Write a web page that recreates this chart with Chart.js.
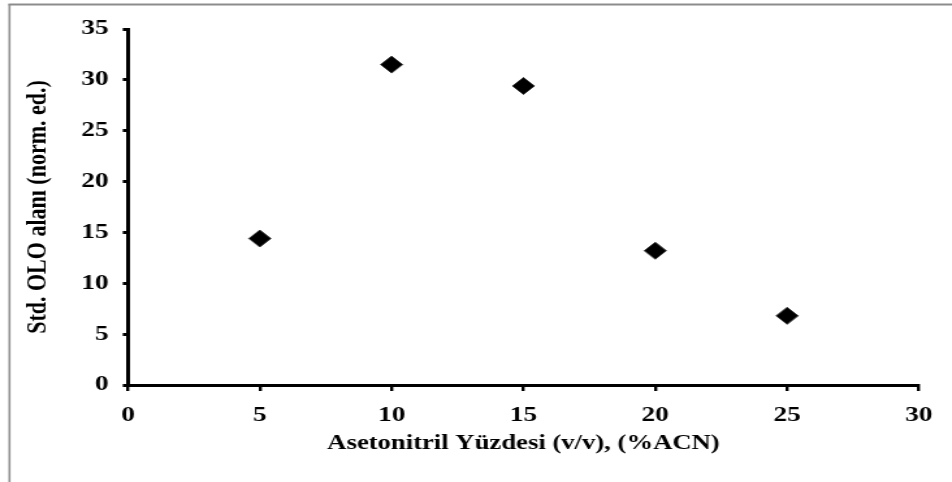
<!DOCTYPE html>
<html>
<head>
<meta charset="utf-8">
<script src="https://cdn.jsdelivr.net/npm/chart.js@4"></script>
<style>
  html, body { margin: 0; padding: 0; background: #fff; overflow: hidden; }
  /* the original picture is stretched sideways, so the chart is too */
  #wrap { width: 732px; height: 482px; transform: scaleX(1.3005); transform-origin: 0 0; }
</style>
</head>
<body>
<div id="wrap"><canvas id="acn-chart" width="732" height="482"></canvas></div>
<script>
// Dati
const acnPercent = [5, 10, 15, 20, 25];
const oloArea = [14.4, 31.5, 29.4, 13.2, 6.8];
const xTickValues = [0, 5, 10, 15, 20, 25, 30];
const yTickValues = [0, 5, 10, 15, 20, 25, 30, 35];

const serif = '"Liberation Serif", "Times New Roman", serif';

// cornice grigia (solo sopra e a sinistra)
const frame = {
  id: 'frame',
  beforeDraw(chart) {
    const ctx = chart.ctx;
    ctx.save();
    ctx.strokeStyle = '#8c8c8c';
    ctx.lineWidth = 2;
    ctx.beginPath();
    ctx.moveTo(6.5, 4.5);
    ctx.lineTo(chart.width, 4.5);
    ctx.stroke();
    ctx.lineWidth = 1.6;
    ctx.beginPath();
    ctx.moveTo(7.3, 4);
    ctx.lineTo(7.3, chart.height);
    ctx.stroke();
    ctx.restore();
  }
};

const points = acnPercent.map(function(x, i){ return { x: x, y: oloArea[i] }; });

const ctx = document.getElementById('acn-chart').getContext('2d');
const acnChart = new Chart(ctx, {
  type: 'scatter',
  data: {
    datasets: [{
      label: 'Std. OLO alanı',
      data: points,
      pointStyle: 'rectRot',
      pointRadius: 8.5,
      backgroundColor: '#000000',
      borderColor: '#3a3a3a',
      borderWidth: 1
    }]
  },
  options: {
    responsive: false,
    devicePixelRatio: 1,
    animation: false,
    layout: { padding: { top: 29, right: 25.4, left: 0, bottom: 0 } },
    plugins: {
      legend: { display: false },
      tooltip: { enabled: false }
    },
    scales: {
      x: {
        type: 'linear',
        min: 0,
        max: 30,
        afterBuildTicks: function(s){ s.ticks = xTickValues.map(function(v){ return { value: v }; }); },
        afterFit: function(s){ s.height = 97; },
        grid: { drawOnChartArea: false, drawTicks: true, tickLength: 6, color: '#000', lineWidth: 2.4 },
        border: { display: true, color: '#000', width: 3 },
        ticks: { color: '#000', padding: 12, font: { family: serif, size: 21, weight: 'bold' } },
        title: {
          display: true,
          text: 'Asetonitril Yüzdesi (v/v), (%ACN)',
          color: '#000',
          font: { family: serif, size: 20.5, weight: 'bold' },
          padding: { top: 0, bottom: 26 }
        }
      },
      y: {
        type: 'linear',
        min: 0,
        max: 35,
        afterBuildTicks: function(s){ s.ticks = yTickValues.map(function(v){ return { value: v }; }); },
        afterFit: function(s){ s.width = 98.4; },
        grid: { drawOnChartArea: false, drawTicks: true, tickLength: 4, color: '#000', lineWidth: 3 },
        border: { display: true, color: '#000', width: 3 },
        ticks: { color: '#000', padding: 11, font: { family: serif, size: 21, weight: 'bold' } },
        title: {
          display: true,
          text: 'Std. OLO alanı (norm. ed.)',
          color: '#000',
          font: { family: serif, size: 22, weight: 'bold' },
          padding: { top: 16, bottom: 0 }
        }
      }
    }
  },
  plugins: [frame]
});
</script>
</body>
</html>
